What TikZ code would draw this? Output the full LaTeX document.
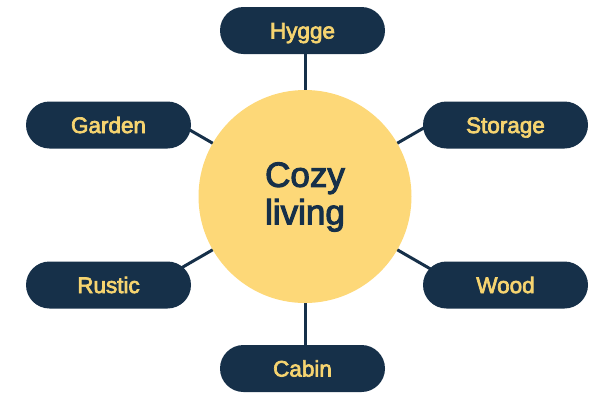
\documentclass[tikz,border=0pt]{standalone}
\usepackage{fontspec}
\setmainfont{Liberation Sans}
\newfontfamily\medfont[FakeBold=3]{Liberation Sans}
\usetikzlibrary{backgrounds,calc}
\definecolor{navy}{HTML}{163049}
\definecolor{sun}{HTML}{FDD878}
\definecolor{labelyellow}{HTML}{F6D470}
\begin{document}
\begin{tikzpicture}[x=1pt,y=-1pt,
  pill/.style={fill=navy, rounded corners=23.5pt, minimum width=165pt, minimum height=47pt,
    inner sep=0pt, text=labelyellow, font=\medfont\fontsize{22.5}{27}\selectfont,
    text height=16.1pt, text depth=0pt},
  hub/.style={circle, fill=sun, minimum size=213pt, inner sep=0pt},
  hubtext/.style={text=navy, align=center, font=\medfont\fontsize{35}{37.5}\selectfont, inner sep=0pt},
  link/.style={draw=navy, line width=3pt}]
\useasboundingbox (0,0) rectangle (598,392);
\node[hub] (c) at (305,196.5) {};
\node[hubtext] (ct) at (305,197) {Cozy\\living};
\node[pill] (hygge) at (302.5,30.5) {Hygge};
\node[pill] (garden) at (108.5,125) {Garden};
\node[pill] (storage) at (505.5,125) {Storage};
\node[pill] (rustic) at (108.5,285) {Rustic};
\node[pill] (wood) at (505.5,285) {Wood};
\node[pill] (cabin) at (302.5,368.5) {Cabin};
\coordinate (eg) at ($(c.center)+(150:150)$);
\coordinate (es) at ($(c.center)+(30:150)$);
\coordinate (er) at ($(c.center)+(210:150)$);
\coordinate (ew) at ($(c.center)+(-30:150)$);
\begin{scope}[on background layer]
  \draw[link] (c.center) -- (c.center |- hygge.center);
  \draw[link] (c.center) -- (c.center |- cabin.center);
  \draw[link] (c.center) -- (eg);
  \draw[link] (c.center) -- (es);
  \draw[link] (c.center) -- (er);
  \draw[link] (c.center) -- (ew);
\end{scope}
\end{tikzpicture}
\end{document}
